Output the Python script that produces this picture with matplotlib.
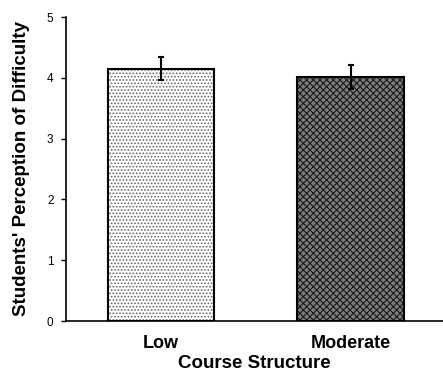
import matplotlib
matplotlib.use('Agg')
import matplotlib.pyplot as plt

categories = ['Low', 'Moderate']
means = [4.15, 4.01]
errors = [0.19, 0.20]

plt.rcParams['font.family'] = ['Liberation Sans', 'DejaVu Sans']
plt.rcParams['hatch.linewidth'] = 0.8

fig = plt.figure(figsize=(4.43, 3.76), dpi=100)
ax = fig.add_axes([66/443, 1 - 321/376, 1 - 66/443, (321 - 17)/376])

x = list(range(len(categories)))
w = 0.56

# patterned fill first, black outline drawn over it
ax.bar(x[0], means[0], w, color='white', edgecolor='#666666', hatch='.....', linewidth=0)
ax.bar(x[1], means[1], w, color='#7c7c7c', edgecolor='#1a1a1a', hatch='xxxxx', linewidth=0)
ax.bar(x, means, w, color='none', edgecolor='black', linewidth=1.5)
ax.errorbar(x, means, yerr=errors, fmt='none', ecolor='black', elinewidth=1.5,
            capsize=2.3, capthick=1.5)

ax.set_xlim(-0.501, 1.488)
ax.set_ylim(0, 5)
ax.set_yticks([0, 1, 2, 3, 4, 5])
ax.set_xticks(x)
ax.set_xticklabels(categories, fontsize=13, fontweight='bold')
ax.tick_params(axis='x', length=0, pad=10)
ax.tick_params(axis='y', length=3.5, width=1, labelsize=8.5, pad=5.5)

for s in ['top', 'right']:
    ax.spines[s].set_visible(False)
ax.spines['left'].set_linewidth(1.2)
ax.spines['bottom'].set_linewidth(1.2)

ax.set_xlabel('Course Structure', fontsize=13.5, fontweight='bold', labelpad=2)
ax.set_ylabel("Students' Perception of Difficulty", fontsize=13.5, fontweight='bold', labelpad=12)

fig.savefig('out.png', dpi=100)
